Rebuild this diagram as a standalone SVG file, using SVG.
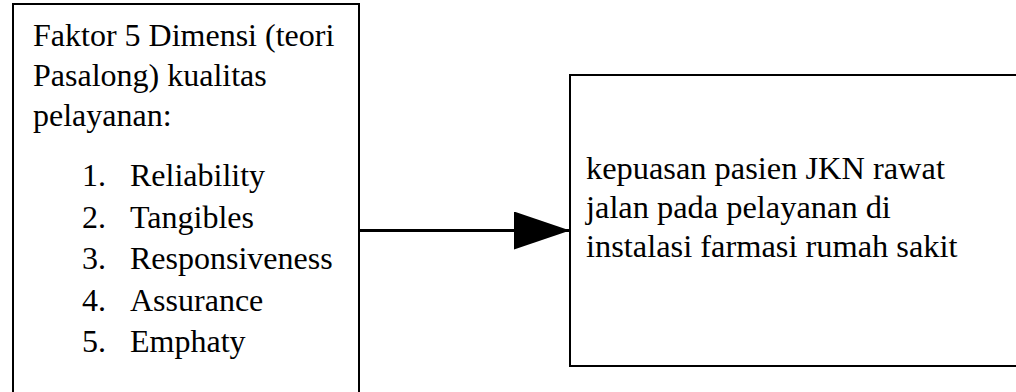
<svg xmlns="http://www.w3.org/2000/svg" width="1016" height="392" viewBox="0 0 1016 392">
<style>
.box{fill:#fff;stroke:#000;stroke-width:2}
.t{font-family:"Liberation Serif","Times New Roman",serif;font-size:32px;fill:#000}
.r{font-size:32.4px}
</style>
<defs>
<marker id="ah" markerUnits="userSpaceOnUse" markerWidth="56" markerHeight="38" refX="56" refY="19" orient="auto">
<path d="M0,0 L56,19 L0,38 Z" fill="#000"/>
</marker>
</defs>
<rect width="1016" height="392" fill="#fff"/>
<g id="node-faktor">
<rect class="box" x="13" y="4" width="346" height="400"/>
<text class="t" x="33" y="46">Faktor 5 Dimensi (teori</text>
<text class="t" x="33" y="86">Pasalong) kualitas</text>
<text class="t" x="33" y="126">pelayanan:</text>
<text class="t" x="82" y="186">1.</text><text class="t" x="130" y="186">Reliability</text>
<text class="t" x="82" y="227.5">2.</text><text class="t" x="130" y="227.5">Tangibles</text>
<text class="t" x="82" y="269">3.</text><text class="t" x="130" y="269">Responsiveness</text>
<text class="t" x="82" y="310.5">4.</text><text class="t" x="130" y="310.5">Assurance</text>
<text class="t" x="82" y="352">5.</text><text class="t" x="130" y="352">Emphaty</text>
</g>
<g id="node-kepuasan">
<rect class="box" x="570" y="75" width="460" height="291"/>
<text class="t r" x="586" y="179">kepuasan pasien JKN rawat</text>
<text class="t r" x="586" y="218">jalan pada pelayanan di</text>
<text class="t r" x="586" y="257">instalasi farmasi rumah sakit</text>
</g>
<g id="connectors">
<line x1="359" y1="230.5" x2="570" y2="230.5" stroke="#000" stroke-width="3" marker-end="url(#ah)"/>
</g>
</svg>
